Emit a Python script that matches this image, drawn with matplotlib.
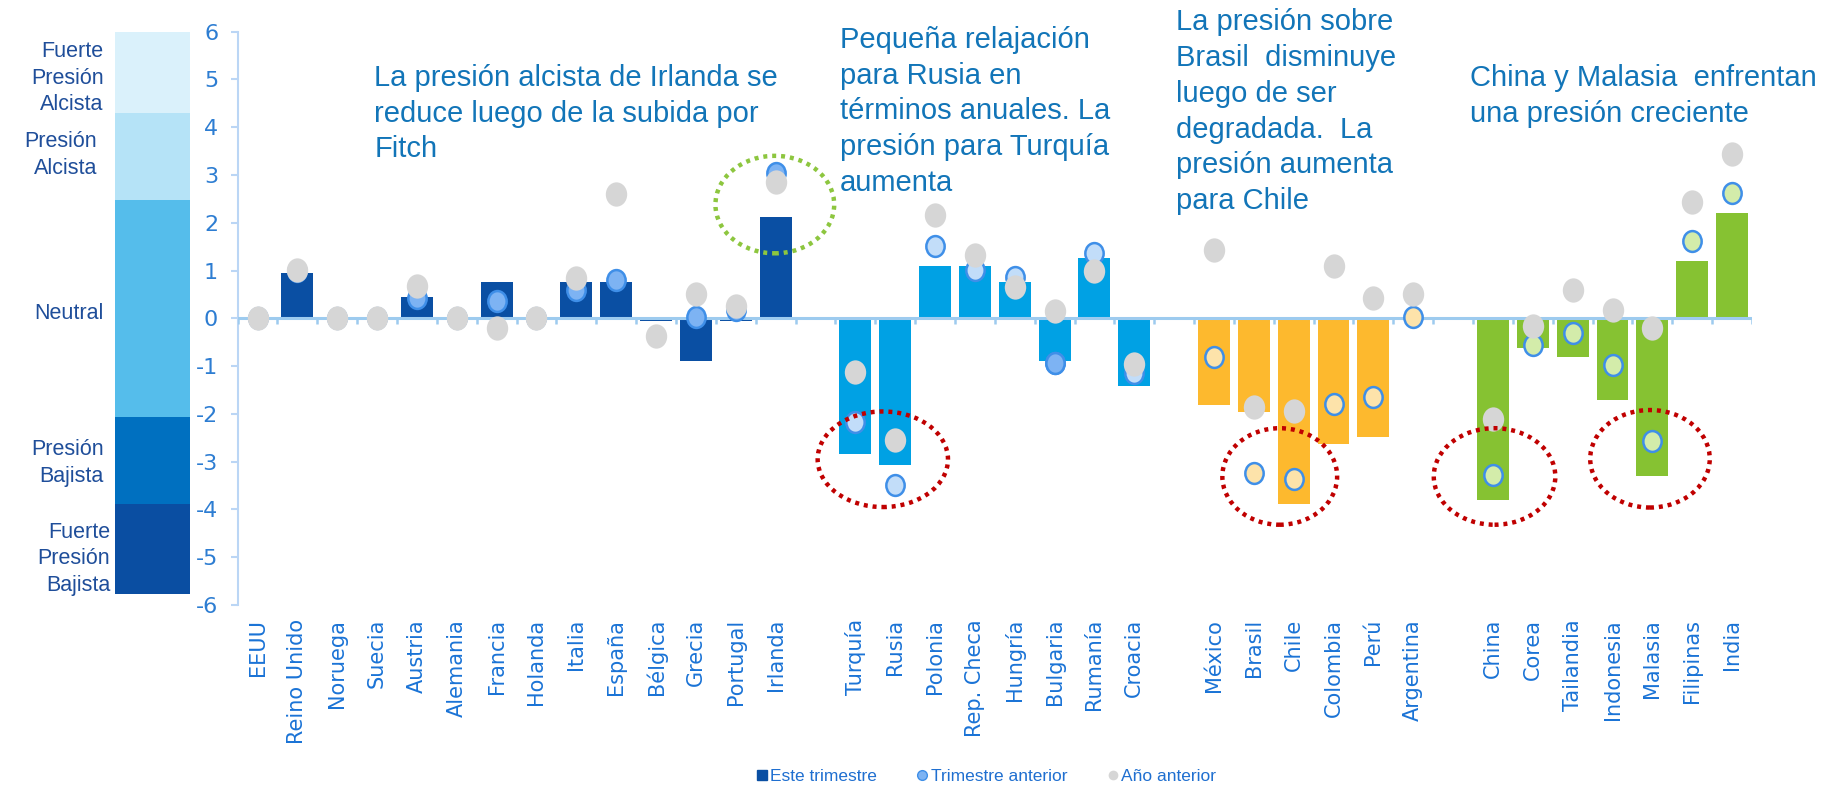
import matplotlib
matplotlib.use("Agg")
import matplotlib.pyplot as plt
import numpy as np
from matplotlib.patches import Ellipse
from matplotlib.lines import Line2D
from matplotlib.path import Path

plt.rcParams["axes.unicode_minus"] = False
nan = np.nan

# ---------------- data ----------------
countries = ["EEUU", "Reino Unido", "Noruega", "Suecia", "Austria", "Alemania", "Francia",
             "Holanda", "Italia", "España", "Bélgica", "Grecia", "Portugal", "Irlanda",
             "Turquía", "Rusia", "Polonia", "Rep. Checa", "Hungría", "Bulgaria", "Rumanía", "Croacia",
             "México", "Brasil", "Chile", "Colombia", "Perú", "Argentina",
             "China", "Corea", "Tailandia", "Indonesia", "Malasia", "Filipinas", "India"]
group_sizes = [14, 8, 6, 7]

este_trimestre = [0, 0.94, 0, 0, 0.44, 0, 0.77, 0, 0.77, 0.77, -0.06, -0.89, -0.06, 2.11,
                  -2.83, -3.08, 1.10, 1.10, 0.77, -0.90, 1.27, -1.41,
                  -1.81, -1.97, -3.89, -2.64, -2.48, 0.0,
                  -3.80, -0.63, -0.80, -1.72, -3.31, 1.20, 2.20]
trimestre_anterior = [0, 1.00, 0, 0, 0.42, 0, 0.36, 0, 0.59, 0.80, nan, 0.03, 0.17, 3.04,
                      -2.16, -3.48, 1.52, 1.02, 0.86, -0.94, 1.36, -1.15,
                      -0.81, -3.23, -3.37, -1.80, -1.64, 0.02,
                      -3.28, -0.56, -0.31, -0.98, -2.56, 1.62, 2.62]
anio_anterior = [0, 1.01, 0, 0, 0.68, 0, -0.21, 0, 0.84, 2.60, -0.36, 0.51, 0.26, 2.85,
                 -1.13, -2.55, 2.17, 1.33, 0.66, 0.16, 1.00, -0.96,
                 1.43, -1.86, -1.95, 1.09, 0.42, 0.50,
                 -2.11, -0.16, 0.59, 0.17, -0.21, 2.43, 3.43]

band_edges = [6, 4.30, 2.47, -2.07, -3.88, -5.77]
band_labels = ["Fuerte\nPresión\nAlcista", "Presión\nAlcista", "Neutral",
               "Presión\nBajista", "Fuerte\nPresión\nBajista"]

notes = ["La presión alcista de Irlanda se\nreduce luego de la subida por\nFitch",
         "Pequeña relajación\npara Rusia en\ntérminos anuales. La\npresión para Turquía\naumenta",
         "La presión sobre\nBrasil  disminuye\nluego de ser\ndegradada.  La\npresión aumenta\npara Chile",
         "China y Malasia  enfrentan\nuna presión creciente"]

legend_labels = ["Este trimestre", "Trimestre anterior", "Año anterior"]

# ---------------- styles ----------------
W, H = 1835, 787
bar_colors = ["#0A4FA3", "#00A1E4", "#FDB92E", "#86C232"]
prev_fill = ["#7DB3F3", "#C2DDF9", "#FDE3AA", "#D3ECAA"]
prev_edge = "#3F8FE8"
grey = "#D6D6D6"
band_colors = ["#DAF1FB", "#B5E3F7", "#55BDEB", "#0070C0", "#0A4EA2"]
tick_col = "#2D7DD2"
axis_col = "#BBD6F5"
note_col = "#1275B8"
band_txt_col = "#1F4E9A"

# positions: one empty slot between groups
pos, grp = [], []
start = 0
for g, n in enumerate(group_sizes):
    for i in range(n):
        pos.append(start + i)
        grp.append(g)
    start += n + 1
pos = np.array(pos)
grp = np.array(grp)

fig = plt.figure(figsize=(W / 100, H / 100), dpi=100)

ax_left, ax_right = 237.6 / W, 1752 / W
ax_top, ax_bot = 1 - 31.6 / H, 1 - 605 / H
ax = fig.add_axes([ax_left, ax_bot, ax_right - ax_left, ax_top - ax_bot])
ax.set_xlim(-0.5, pos[-1] + 0.5)
ax.set_ylim(-6, 6)

# band axes
bx = fig.add_axes([114.7 / W, ax_bot, (189.6 - 114.7) / W, ax_top - ax_bot])
bx.set_ylim(-6, 6)
bx.set_xlim(0, 1)
for i in range(len(band_colors)):
    bx.bar(0.5, band_edges[i] - band_edges[i + 1], bottom=band_edges[i + 1], width=1,
           color=band_colors[i], linewidth=0)
bx.axis("off")

band_lab_pos = [(103.6, 78), (97, 155), (103.6, 314), (103.6, 463), (110, 559)]
for lab, (x, y) in zip(band_labels, band_lab_pos):
    fig.text(x / W, 1 - y / H, lab, ha="right", va="center", multialignment="right",
             fontsize=15.5, color=band_txt_col, family=["Liberation Sans", "DejaVu Sans"],
             linespacing=1.32)

# bars
for g in range(len(group_sizes)):
    m = grp == g
    ax.bar(pos[m], np.array(este_trimestre)[m], width=0.8, color=bar_colors[g],
           linewidth=0, zorder=2)

# custom slightly tall ellipse marker
uc = Path.unit_circle()
ell_marker = Path(uc.vertices * np.array([0.88, 1.0]), uc.codes)

tp = np.array(trimestre_anterior, dtype=float)
for g in range(len(group_sizes)):
    m = grp == g
    ax.plot(pos[m], tp[m], linestyle="none", marker=ell_marker, markersize=15,
            markerfacecolor=prev_fill[g], markeredgecolor=prev_edge, markeredgewidth=1.8,
            zorder=4)
# Bulgaria drawn with darker fill
bi = countries.index("Bulgaria")
ax.plot([pos[bi]], [tp[bi]], linestyle="none", marker=ell_marker, markersize=15,
        markerfacecolor=prev_fill[0], markeredgecolor=prev_edge, markeredgewidth=1.8, zorder=4)

ax.plot(pos, anio_anterior, linestyle="none", marker=ell_marker, markersize=17.5,
        markerfacecolor=grey, markeredgecolor="none", zorder=5)

# zero line with ticks at slot boundaries
ax.axhline(0, color="#9DCBEF", lw=2.2, zorder=3)
bounds = np.arange(-0.5, pos[-1] + 1.0, 1.0)
ax.vlines(bounds, -0.11, 0, color="#9DCBEF", lw=1.8, zorder=3)

# spines / ticks
for s in ["top", "right", "bottom"]:
    ax.spines[s].set_visible(False)
ax.spines["left"].set_color(axis_col)
ax.spines["left"].set_linewidth(1.5)
ax.set_yticks(np.arange(-6, 7, 1))
ax.tick_params(axis="y", colors=axis_col, length=5, width=1.5, pad=9, labelsize=16,
               labelcolor=tick_col)
ax.set_xticks(pos)
ax.set_xticklabels(countries, rotation=90, fontsize=15, color="#1A73D6")
ax.tick_params(axis="x", length=0, pad=10)
for lab in ax.get_yticklabels() + ax.get_xticklabels():
    lab.set_family("DejaVu Sans")

# annotation ellipses
ellipses = [(12.98, 2.38, 2.98, 2.04, "#8DC63F"),
            (15.69, -2.95, 3.27, 2.0, "#C00000"),
            (25.65, -3.31, 2.88, 2.02, "#C00000"),
            (31.04, -3.31, 3.05, 2.02, "#C00000"),
            (34.94, -2.94, 3.0, 2.04, "#C00000")]
for cx, cy, w, h, c in ellipses:
    ax.add_patch(Ellipse((cx, cy), w, h, fill=False, edgecolor=c, lw=3.2,
                         linestyle=(0, (0.9, 1.1)), zorder=6, clip_on=False))

# notes
note_pos = [(374.5, 64), (840, 26), (1176, 8.5), (1470, 64)]
for t, (x, y) in zip(notes, note_pos):
    fig.text(x / W, 1 - y / H, t, ha="left", va="top", fontsize=21, color=note_col,
             family=["Liberation Sans", "DejaVu Sans"], linespacing=1.35)

# legend
handles = [Line2D([], [], linestyle="none", marker="s", markersize=7, color=bar_colors[0]),
           Line2D([], [], linestyle="none", marker="o", markersize=7, markerfacecolor=prev_fill[0],
                  markeredgecolor=prev_edge, markeredgewidth=1),
           Line2D([], [], linestyle="none", marker="o", markersize=7, markerfacecolor=grey,
                  markeredgecolor="none")]
fig.legend(handles, legend_labels, loc="center", bbox_to_anchor=(0.537, 1 - 776 / H), ncol=3,
           frameon=False, handletextpad=0.1, columnspacing=2.2, handlelength=0.8,
           prop={"family": ["Liberation Sans", "DejaVu Sans"], "size": 12.5}, labelcolor="#1F6FD0")

fig.savefig("out.png", dpi=100)
